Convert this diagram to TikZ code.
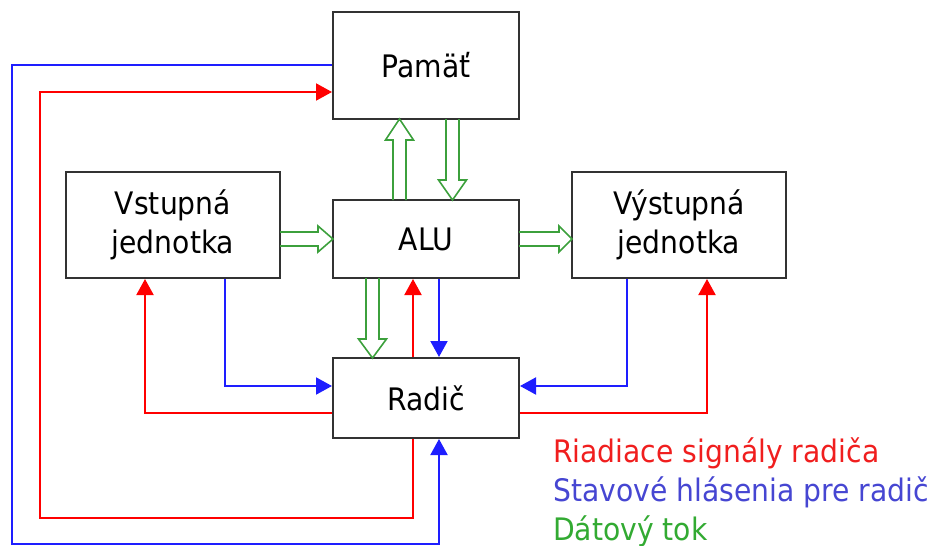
\documentclass[tikz,border=0pt]{standalone}
\usepackage{fontspec}
\setmainfont{DejaVu Sans}[FakeStretch=0.91]
\usetikzlibrary{arrows.meta,calc}
\definecolor{ctlc}{RGB}{255,0,0}
\definecolor{statc}{RGB}{30,30,255}
\definecolor{datc}{RGB}{60,160,60}
\definecolor{legred}{RGB}{240,30,30}
\definecolor{legblue}{RGB}{70,70,210}
\definecolor{leggreen}{RGB}{50,170,50}
\definecolor{boxc}{RGB}{50,50,50}
\tikzset{
  box/.style={draw=boxc, line width=2pt, fill=white, inner sep=0pt, align=center,
    font=\fontsize{31}{39}\selectfont},
  ctl/.style={draw=ctlc, line width=2pt, -{Triangle[length=16pt,width=17pt]}},
  stat/.style={draw=statc, line width=2pt, -{Triangle[length=16pt,width=17pt]}},
  dat/.style={draw=datc, line width=1.6pt, line join=miter},
  legend/.style={anchor=base west, inner sep=0pt, font=\fontsize{31}{39}\selectfont}
}
% vertical hollow arrow: x, y start, y head base, y tip
\newcommand{\hollowV}[4]{%
  \draw[dat] (#1-6.5,#2) -- (#1-6.5,#3) -- (#1-14,#3) -- (#1,#4) -- (#1+14,#3) -- (#1+6.5,#3) -- (#1+6.5,#2);}
% horizontal hollow arrow: y, x start, x head base, x tip
\newcommand{\hollowH}[4]{%
  \draw[dat] (#2,#1-7) -- (#3,#1-7) -- (#3,#1-13) -- (#4,#1) -- (#3,#1+13) -- (#3,#1+7) -- (#2,#1+7);}
\begin{document}
\begin{tikzpicture}[x=1pt,y=-1pt]
\useasboundingbox (0,0) rectangle (938,546);

\node[box, minimum width=186pt, minimum height=107pt] (pam) at (426,65.5) {Pamäť};
\node[box, minimum width=186pt, minimum height=78pt] (alu) at (426,239) {ALU};
\node[box, minimum width=214pt, minimum height=106pt] (vst) at (173,225) {Vstupná\\jednotka};
\node[box, minimum width=214pt, minimum height=106pt] (vys) at (679,225) {Výstupná\\jednotka};
\node[box, minimum width=186pt, minimum height=80pt] (rad) at (426,398) {Radič};

% outer loops
\coordinate (bl) at (12,544);
\coordinate (rl) at (40,518);
\draw[stat] ($(pam.west)+(0,-0.5)$) -| (bl) -| ($(rad.south)+(13,0)$);
\draw[ctl] ($(rad.south)+(-13,0)$) |- (rl) |- ($(pam.west)+(0,26.5)$);

% ALU <-> Radic
\draw[ctl] ($(rad.north)+(-13,0)$) -- ($(alu.south)+(-13,0)$);
\draw[stat] ($(alu.south)+(13,0)$) -- ($(rad.north)+(13,0)$);

% Vstupna <-> Radic
\draw[stat] ($(vst.south)+(52,0)$) |- ($(rad.west)+(0,-12)$);
\draw[ctl] ($(rad.west)+(0,15)$) -| ($(vst.south)+(-28,0)$);

% Vystupna <-> Radic
\draw[stat] ($(vys.south)+(-52,0)$) |- ($(rad.east)+(0,-12)$);
\draw[ctl] ($(rad.east)+(0,15)$) -| ($(vys.south)+(28,0)$);

% data flow (hollow arrows)
\hollowV{399.5}{200}{140}{119}
\hollowV{452.5}{119}{180}{200}
\hollowV{372.5}{278}{339}{358}
\hollowH{239}{280}{318}{333}
\hollowH{239}{519}{559}{572}

% legend
\node[legend, text=legred] (l1) at (553,462) {Riadiace signály radiča};
\node[legend, text=legblue] (l2) at (553,501) {Stavové hlásenia pre radič};
\node[legend, text=leggreen] (l3) at (553,540) {Dátový tok};
\end{tikzpicture}
\end{document}
